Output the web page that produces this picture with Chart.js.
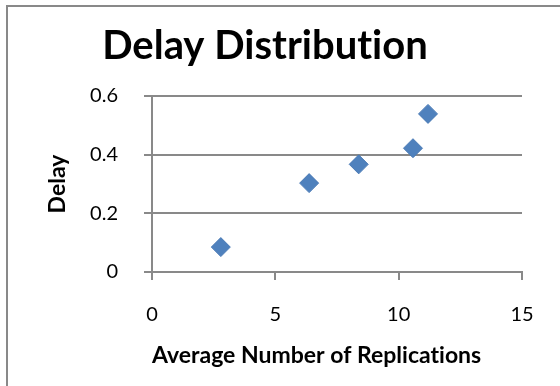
<!DOCTYPE html>
<html>
<head>
<meta charset="utf-8">
<script src="https://cdn.jsdelivr.net/npm/chart.js@4"></script>
<style>
  body { margin: 0; background: #fff; overflow: hidden; }
  #wrap { position: relative; width: 560px; height: 386px; overflow: hidden; }
  #frame { position: absolute; left: 6px; top: 5px; width: 620px; height: 440px; border: 2px solid #898989; }
  canvas { position: absolute; left: 0; top: 0; }
</style>
</head>
<body>
<div id="wrap">
  <div id="frame"></div>
  <canvas id="chart" width="560" height="386"></canvas>
</div>
<script>
const chartTitle = "Delay Distribution";
const xTitle = "Average Number of Replications";
const yTitle = "Delay";
const replications = [2.79, 6.37, 8.38, 10.58, 11.19];
const delay = [0.085, 0.303, 0.367, 0.422, 0.539];
const xTicks = [0, 5, 10, 15];
const yTicks = [0, 0.2, 0.4, 0.6];

const lineGray = '#898989';
const pointBlue = '#4F81BD';

const points = replications.map((x, i) => ({ x: x, y: delay[i] }));

// no "ti" ligature, Excel does not do that
const plainText = {
  id: 'plainText',
  beforeDraw(chart) { chart.ctx.textRendering = 'optimizeSpeed'; }
};

const chartConfig = {
  type: 'scatter',
  data: {
    datasets: [{
      label: yTitle,
      data: points,
      pointStyle: 'rectRot',
      pointRadius: 9.5,
      pointHoverRadius: 9.5,
      backgroundColor: pointBlue,
      borderColor: '#4A7AB5',
      borderWidth: 1
    }]
  },
  options: {
    responsive: false,
    animation: false,
    layout: { padding: { left: 8, right: 38, top: 0, bottom: 0 } },
    plugins: {
      legend: { display: false },
      tooltip: { enabled: false },
      title: {
        display: true,
        text: chartTitle,
        color: '#000',
        font: { family: 'Lato', size: 40, weight: 'bold' },
        padding: { top: 22, bottom: 26 }
      }
    },
    scales: {
      x: {
        type: 'linear',
        min: xTicks[0],
        max: xTicks[xTicks.length - 1],
        afterBuildTicks: (scale) => { scale.ticks = xTicks.map(v => ({ value: v })); },
        afterFit: (scale) => { scale.height = 114; },
        ticks: {
          color: '#000',
          font: { family: 'Lato', size: 20 },
          padding: 23
        },
        grid: {
          drawOnChartArea: false,
          drawTicks: true,
          tickLength: 8,
          color: lineGray,
          lineWidth: 2
        },
        border: { display: true, color: lineGray, width: 2 },
        title: {
          display: true,
          text: xTitle,
          align: 'start',
          color: '#000',
          font: { family: 'Lato', size: 23, weight: 'bold' },
          padding: { top: 0, bottom: 16.2 }
        }
      },
      y: {
        type: 'linear',
        min: yTicks[0],
        max: yTicks[yTicks.length - 1],
        afterBuildTicks: (scale) => { scale.ticks = yTicks.map(v => ({ value: v })); },
        afterFit: (scale) => { scale.width = 144; },
        ticks: {
          color: '#000',
          font: { family: 'Lato', size: 20 },
          padding: 26
        },
        grid: {
          drawTicks: true,
          tickLength: 8,
          color: lineGray,
          lineWidth: 2
        },
        border: { display: true, color: lineGray, width: 2 },
        title: {
          display: true,
          text: yTitle,
          color: '#000',
          font: { family: 'Lato', size: 23, weight: 'bold' },
          padding: { top: 36.2, bottom: 0 }
        }
      }
    }
  },
  plugins: [plainText]
};

new Chart(document.getElementById('chart').getContext('2d'), chartConfig);
</script>
</body>
</html>
